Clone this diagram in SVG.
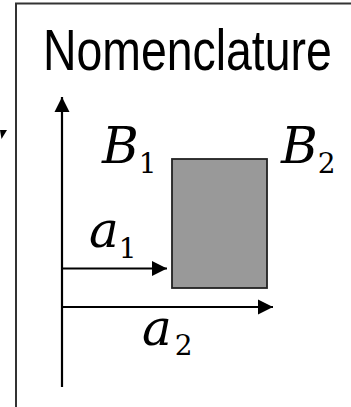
<svg xmlns="http://www.w3.org/2000/svg" width="351" height="407" viewBox="0 0 351 407">
<style>
.title{font-family:"Liberation Sans",Arial,sans-serif;font-size:58px;fill:#000}
.math{font-family:"DejaVu Serif","Liberation Serif",serif;font-style:italic;font-size:50px;fill:#000}
.sub{font-family:"DejaVu Serif","Liberation Serif",serif;font-style:normal;font-size:28px}
.ln{stroke:#000;stroke-width:2.2;fill:none}
</style>
<defs>
<marker id="ah" markerUnits="userSpaceOnUse" markerWidth="16" markerHeight="16" refX="15" refY="8" orient="auto">
<path d="M0,0.5 L15,8 L0,15.5 z" fill="#000"/>
</marker>
</defs>
<rect x="0" y="0" width="351" height="407" fill="#fff"/>
<polygon points="0,130 7,130 1.5,139" fill="#000"/>
<g id="frame">
<rect x="16" y="3.5" width="400" height="500" fill="none" stroke="#333" stroke-width="2"/>
</g>
<g id="title">
<text class="title" transform="scale(0.8,1)" x="53.75" y="70">Nomenclature</text>
</g>
<g id="box">
<rect x="172" y="159" width="95" height="129" fill="#999" stroke="#222" stroke-width="1.8"/>
</g>
<g id="labels">
<text class="math" x="102" y="163">B<tspan class="sub" dy="10">1</tspan></text>
<text class="math" x="281" y="163">B<tspan class="sub" dy="10">2</tspan></text>
<text class="math" x="89" y="247">a<tspan class="sub" dy="11">1</tspan></text>
<text class="math" x="142" y="345">a<tspan class="sub" dx="3" dy="10">2</tspan></text>
</g>
<g id="connectors">
<line class="ln" x1="62" y1="387" x2="62" y2="97" marker-end="url(#ah)"/>
<line class="ln" x1="62" y1="268.5" x2="167" y2="268.5" marker-end="url(#ah)"/>
<line class="ln" x1="62" y1="307" x2="273" y2="307" marker-end="url(#ah)"/>
</g>
</svg>
